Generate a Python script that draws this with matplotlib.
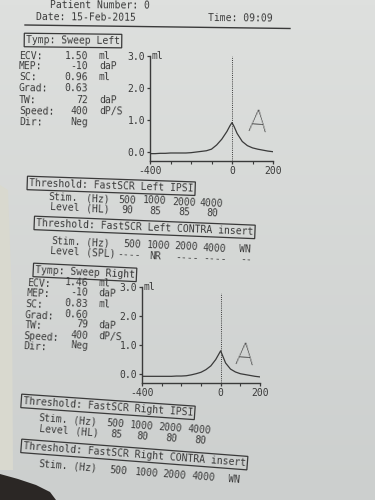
import numpy as np
import matplotlib.pyplot as plt

INK = "#3a3a3a"
MONO = "DejaVu Sans Mono"
FS = 7

# report header
patient_number = "0"
test_date = "15-Feb-2015"
test_time = "09:09"

# tymp parameters
param_names = ["ECV:", "MEP:", "SC:", "Grad:", "TW:", "Speed:", "Dir:"]
param_units = ["ml", "daP", "ml", "", "daP", "dP/S", ""]
left_values = ["1.50", "-10", "0.96", "0.63", "72", "400", "Neg"]
right_values = ["1.46", "-10", "0.83", "0.60", "79", "400", "Neg"]

# reflex thresholds
ipsi_freqs = ["500", "1000", "2000", "4000"]
contra_freqs = ["500", "1000", "2000", "4000", "WN"]
left_ipsi_levels = ["90", "85", "85", "80"]
left_contra_levels = ["----", "NR", "----", "----", "--"]
right_ipsi_levels = ["85", "80", "80", "80"]

# tympanograms (daP -> ml)
pressure = [-400, -375, -350, -325, -300, -275, -250, -225, -200, -175, -150, -125,
            -100, -75, -50, -25, -10, 0, 10, 25, 50, 75, 100, 125, 150, 175, 200]
left_compliance = [-0.05, -0.05, -0.04, -0.04, -0.03, -0.03, -0.03, -0.03, -0.02, 0.00,
                   0.02, 0.04, 0.09, 0.22, 0.40, 0.64, 0.82, 0.92, 0.80, 0.58, 0.33,
                   0.20, 0.13, 0.09, 0.06, 0.03, 0.01]
right_compliance = [-0.08, -0.08, -0.08, -0.08, -0.08, -0.08, -0.08, -0.07, -0.07, -0.06,
                    -0.03, 0.01, 0.06, 0.15, 0.28, 0.50, 0.68, 0.80, 0.63, 0.38, 0.17,
                    0.07, 0.01, -0.02, -0.05, -0.08, -0.10]
y_ticks = [0, 1, 2, 3]
x_ticks = [-400, 0, 200]
x_minor = [-300, -200, -100, 100]

fig = plt.figure(figsize=(3.75, 5), dpi=100)

# page, in pixel coordinates
bg = fig.add_axes([0, 0, 1, 1])
bg.set_xlim(0, 375)
bg.set_ylim(500, 0)
bg.axis("off")

shade = np.linspace(0, 1, 100)[:, None, None]
top = np.array([222, 224, 222]) / 255
bottom = np.array([204, 207, 206]) / 255
bg.imshow(top + (bottom - top) * shade, extent=(0, 375, 500, 0), aspect="auto", zorder=0)
bg.fill([0, 8, 12, 13, 0], [185, 190, 300, 470, 470], color="#d9d9cf", lw=0, zorder=1)
bg.fill([0, 18, 36, 50, 56, 0], [474, 479, 485, 492, 500, 500], color="#2b2725", lw=0, zorder=1)


def slope_at(y):
    # the photographed sheet drops towards the right, more so further down
    return 0.005 + 0.00016 * y


def put(x, y, s, ha="left", boxed=False, **kw):
    rot = -np.degrees(np.arctan(slope_at(y)))
    if boxed:
        kw["bbox"] = dict(boxstyle="square,pad=0.18", fc="none", ec=INK, lw=0.9)
    bg.text(x, y, s, ha=ha, va="center", rotation=rot, rotation_mode="anchor",
            fontsize=FS, family=MONO, color=INK, zorder=3, **kw)


def row(x0, y0, items):
    s = slope_at(y0)
    for x, txt, ha in items:
        put(x, y0 + s * (x - x0), txt, ha=ha)


def param_block(values, x_label, ys):
    for name, val, unit, y, xl in zip(param_names, values, param_units, ys, x_label):
        put(xl, y, name)
        put(88, y, val, ha="right")
        if unit:
            put(99, y, unit)


def level_row(x0, y0, label, unit, levels, centers):
    items = [(x0, label, "left"), (x0 + 36, unit, "left")]
    items += [(c, lv, "center") for c, lv in zip(centers, levels)]
    row(x0, y0, items)


def hand_mark(x, y):
    # pen-written grade next to each tympanogram
    bg.text(x, y, "A", ha="center", va="center", fontsize=22, color="#4a4a4a",
            family=["Roboto", "DejaVu Sans"], fontweight=200, rotation=-4, zorder=3)


def tymp_chart(rect, compliance, y_bottom, guide_top):
    ax = fig.add_axes(rect, zorder=4)
    ax.patch.set_alpha(0)
    ax.plot(pressure, compliance, color=INK, lw=0.9)
    ax.vlines(0, y_bottom, guide_top, colors=INK, linestyles=(0, (1, 1.2)), lw=0.7)
    ax.set_xlim(-400, 200)
    ax.set_ylim(y_bottom, 3.0)
    for side in ("top", "right"):
        ax.spines[side].set_visible(False)
    for side in ("left", "bottom"):
        ax.spines[side].set_color(INK)
        ax.spines[side].set_linewidth(1.0)
    ax.set_yticks(y_ticks)
    ax.set_yticklabels([f"{t:.1f}" for t in y_ticks])
    ax.set_xticks(x_ticks)
    ax.set_xticklabels([str(t) for t in x_ticks])
    ax.set_xticks(x_minor, minor=True)
    ax.tick_params(axis="both", which="major", length=2.5, width=0.9, color=INK,
                   labelsize=FS, labelcolor=INK, pad=1)
    ax.tick_params(axis="x", which="minor", length=2, width=0.8, color=INK)
    for lab in ax.get_xticklabels() + ax.get_yticklabels():
        lab.set_family(MONO)
    ax.text(-392, 3.0, "ml", va="center", ha="left", fontsize=FS, family=MONO, color=INK)
    return ax


# header
put(50, 5, f"Patient Number: {patient_number}")
row(36, 17, [(36, f"Date: {test_date}", "left"), (208, f"Time: {test_time}", "left")])
bg.plot([25, 290], [25, 28.5], color=INK, lw=1.0, zorder=3)

# left ear
put(26, 40, "Tymp: Sweep Left", boxed=True)
param_block(left_values, [19] * 7, [56, 66, 77, 88, 100, 111, 122])
tymp_chart([150 / 375, 1 - 161 / 500, 123 / 375, 105 / 500], left_compliance, -0.28, 3.0)
hand_mark(257, 123)

put(29, 183, "Threshold: FastSCR Left IPSI", boxed=True)
row(48, 197, [(48, "Stim.", "left"), (86, "(Hz)", "left")] +
    list(zip([118, 143, 172, 200], ipsi_freqs, ["left"] * 4)))
level_row(50, 207, "Level", "(HL)", left_ipsi_levels, [127, 155, 184, 212])

put(36, 223, "Threshold: FastSCR Left CONTRA insert", boxed=True)
row(52, 241, [(52, "Stim.", "left"), (86, "(Hz)", "left")] +
    list(zip([123, 147, 174, 203, 239], contra_freqs, ["left"] * 5)))
row(50, 251, [(50, "Level", "left"), (86, "(SPL)", "left")] +
    list(zip([117, 150, 175, 203, 240], left_contra_levels, ["left"] * 5)))

# right ear
put(35, 270, "Tymp: Sweep Right", boxed=True)
right_ys = [283, 293, 304, 315, 325, 336, 346]
param_block(right_values, [27 - (y - 283) * 0.06 for y in right_ys], right_ys)
tymp_chart([142 / 375, 1 - 383 / 500, 118 / 375, 96 / 500], right_compliance, -0.31, 2.8)
hand_mark(244, 356)

put(23, 401, "Threshold: FastSCR Right IPSI", boxed=True)
row(39, 418, [(39, "Stim.", "left"), (73, "(Hz)", "left")] +
    list(zip([107, 130, 159, 188], ipsi_freqs, ["left"] * 4)))
level_row(39, 429, "Level", "(HL)", right_ipsi_levels, [116, 142, 171, 200])

put(23, 446, "Threshold: FastSCR Right CONTRA insert", boxed=True)
row(39, 464, [(39, "Stim.", "left"), (73, "(Hz)", "left")] +
    list(zip([110, 135, 163, 192, 228], contra_freqs, ["left"] * 5)))

fig.savefig("out.png", dpi=100)
